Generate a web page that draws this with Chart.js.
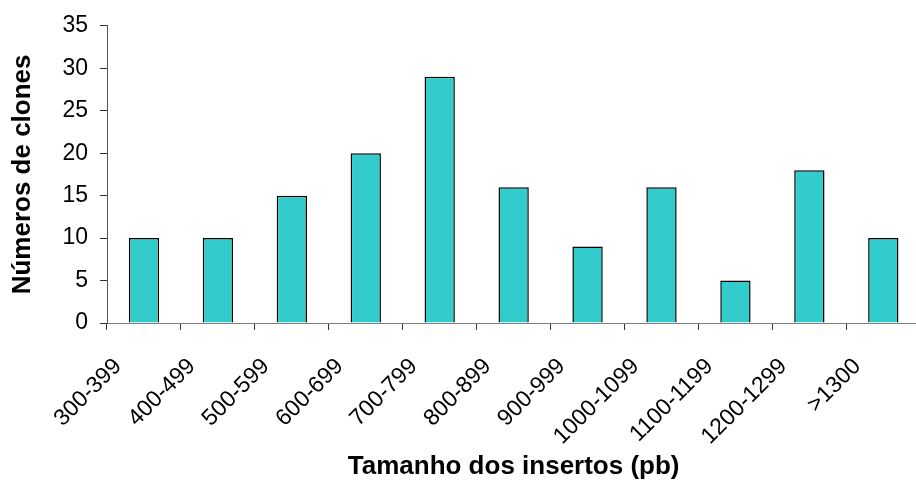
<!DOCTYPE html>
<html>
<head>
<meta charset="utf-8">
<script src="https://cdn.jsdelivr.net/npm/chart.js@4/dist/chart.umd.min.js"></script>
<style>
  html, body { margin: 0; padding: 0; background: #fff; overflow: hidden; }
  #wrap { width: 926px; height: 480px; }
</style>
</head>
<body>
<div id="wrap"><canvas id="c" width="926" height="480"></canvas></div>
<script>
// Insert size classes (bp) and number of clones in each
const categories = ['300-399', '400-499', '500-599', '600-699', '700-799', '800-899',
                    '900-999', '1000-1099', '1100-1199', '1200-1299', '>1300'];
const clones = [10, 10, 15, 20, 29, 16, 9, 16, 5, 18, 10];
const yTicks = [0, 5, 10, 15, 20, 25, 30, 35];

const FONT = '"Liberation Sans", Arial, sans-serif';

new Chart(document.getElementById('c'), {
  type: 'bar',
  data: {
    labels: categories,
    datasets: [{
      data: clones,
      backgroundColor: '#33CCCC',
      borderColor: '#000000',
      borderWidth: 1.5,
      barPercentage: 0.41,
      categoryPercentage: 1
    }]
  },
  options: {
    responsive: false,
    animation: false,
    layout: { padding: { top: 24, right: 4, left: 0, bottom: 0 } },
    plugins: { legend: { display: false }, tooltip: { enabled: false } },
    scales: {
      x: {
        offset: true,
        border: { display: true, color: '#808080', width: 1 },
        grid: { display: true, drawOnChartArea: false, drawTicks: true, tickLength: 7, color: '#333' },
        ticks: {
          color: '#000',
          font: { family: FONT, size: 23 },
          maxRotation: 45, minRotation: 45,
          padding: 23,
          labelOffset: -26,
          autoSkip: false
        },
        title: {
          display: true,
          text: 'Tamanho dos insertos (pb)',
          color: '#000',
          font: { family: FONT, size: 26, weight: 'bold', lineHeight: 1 },
          padding: { top: 0, bottom: 0 }
        },
        afterFit: (s) => { s.height = 157; }
      },
      y: {
        min: 0, max: 35,
        border: { display: true, color: '#555', width: 1 },
        grid: { display: true, drawOnChartArea: false, drawTicks: true, tickLength: 7, color: '#333' },
        afterBuildTicks: (s) => { s.ticks = yTicks.map(v => ({ value: v })); },
        ticks: {
          color: '#000',
          font: { family: FONT, size: 23 },
          padding: 12
        },
        title: {
          display: true,
          text: 'Números de clones',
          color: '#000',
          font: { family: FONT, size: 26, weight: 'bold', lineHeight: 1 },
          padding: { top: 10, bottom: 0 }
        },
        afterFit: (s) => { s.width = 107; }
      }
    }
  }
});
</script>
</body>
</html>
